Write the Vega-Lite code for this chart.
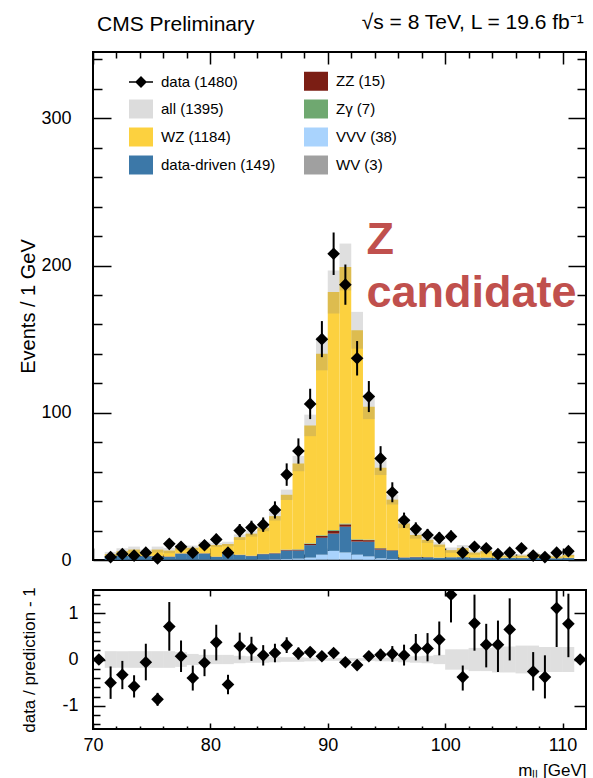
{
  "$schema": "https://vega.github.io/schema/vega-lite/v6.json",
  "background": "white",
  "padding": {"left": 17, "top": 12, "right": 0, "bottom": 0},
  "config": {
    "font": "Liberation Sans",
    "view": {"stroke": "black", "strokeWidth": 2},
    "axis": {"domain": false, "grid": false, "tickColor": "black", "tickWidth": 1.5, "labelColor": "black", "titleColor": "black", "labelFont": "Liberation Sans", "titleFont": "Liberation Sans", "titleFontWeight": "normal", "labelFontSize": 18, "titleFontSize": 18, "labelFlush": false, "labelOverlap": false, "labelBound": false}
  },
  "title": {"text": "√s = 8 TeV, L = 19.6 fb⁻¹", "anchor": "end", "fontSize": 21, "fontWeight": "normal", "font": "Liberation Sans", "color": "black", "baseline": "alphabetic", "offset": 0, "dy": 37, "dx": -4},
  "spacing": 15,
  "datasets": {
    "legend": [
      {"proc": "data (1480)"}, {"proc": "all (1395)"}, {"proc": "WZ (1184)"}, {"proc": "data-driven (149)"},
      {"proc": "ZZ (15)"}, {"proc": "Zγ (7)"}, {"proc": "VVV (38)"}, {"proc": "WV (3)"}
    ],
    "main": [
      {"m": 71.5, "lo": 71, "hi": 72, "n": 2, "nlo": 0.59, "nhi": 3.41, "WV (3)": 0, "VVV (38)": 0.2, "data-driven (149)": 2.2, "ZZ (15)": 0.1, "Zγ (7)": 0.1, "WZ (1184)": 1.4, "blo": 2.5, "bhi": 5.5},
      {"m": 72.5, "lo": 72, "hi": 73, "n": 4, "nlo": 2, "nhi": 6, "WV (3)": 0, "VVV (38)": 0.2, "data-driven (149)": 2.5, "ZZ (15)": 0.1, "Zγ (7)": 0.1, "WZ (1184)": 3.1, "blo": 4, "bhi": 8},
      {"m": 73.5, "lo": 73, "hi": 74, "n": 3, "nlo": 1.27, "nhi": 4.73, "WV (3)": 0, "VVV (38)": 0.2, "data-driven (149)": 2.6, "ZZ (15)": 0.1, "Zγ (7)": 0.1, "WZ (1184)": 4.1, "blo": 5.1, "bhi": 9.1},
      {"m": 74.5, "lo": 74, "hi": 75, "n": 5, "nlo": 2.76, "nhi": 7.24, "WV (3)": 0, "VVV (38)": 0.2, "data-driven (149)": 2.4, "ZZ (15)": 0.1, "Zγ (7)": 0.1, "WZ (1184)": 2.5, "blo": 3.5, "bhi": 7.1},
      {"m": 75.5, "lo": 75, "hi": 76, "n": 1, "nlo": 0, "nhi": 2, "WV (3)": 0, "VVV (38)": 0.2, "data-driven (149)": 2.3, "ZZ (15)": 0.2, "Zγ (7)": 0.1, "WZ (1184)": 4.3, "blo": 5.1, "bhi": 9.1},
      {"m": 76.5, "lo": 76, "hi": 77, "n": 11, "nlo": 7.68, "nhi": 14.32, "WV (3)": 0.05, "VVV (38)": 0.2, "data-driven (149)": 1.8, "ZZ (15)": 0.3, "Zγ (7)": 0.1, "WZ (1184)": 3.95, "blo": 4.6, "bhi": 8.2},
      {"m": 77.5, "lo": 77, "hi": 78, "n": 9, "nlo": 6, "nhi": 12, "WV (3)": 0.05, "VVV (38)": 0.2, "data-driven (149)": 4, "ZZ (15)": 0.2, "Zγ (7)": 0.1, "WZ (1184)": 3.85, "blo": 6.6, "bhi": 10.2},
      {"m": 78.5, "lo": 78, "hi": 79, "n": 5, "nlo": 2.76, "nhi": 7.24, "WV (3)": 0.05, "VVV (38)": 0.2, "data-driven (149)": 4, "ZZ (15)": 0.2, "Zγ (7)": 0.1, "WZ (1184)": 3.75, "blo": 6.8, "bhi": 9.8},
      {"m": 79.5, "lo": 79, "hi": 80, "n": 10, "nlo": 6.84, "nhi": 13.16, "WV (3)": 0.05, "VVV (38)": 0.3, "data-driven (149)": 4, "ZZ (15)": 0.2, "Zγ (7)": 0.1, "WZ (1184)": 6.15, "blo": 9.2, "bhi": 12.4},
      {"m": 80.5, "lo": 80, "hi": 81, "n": 14, "nlo": 10.26, "nhi": 17.74, "WV (3)": 0.05, "VVV (38)": 0.3, "data-driven (149)": 1.7, "ZZ (15)": 0.2, "Zγ (7)": 0.1, "WZ (1184)": 7.85, "blo": 8.8, "bhi": 11.6},
      {"m": 81.5, "lo": 81, "hi": 82, "n": 5, "nlo": 2.76, "nhi": 7.24, "WV (3)": 0.05, "VVV (38)": 0.3, "data-driven (149)": 4, "ZZ (15)": 0.2, "Zγ (7)": 0.1, "WZ (1184)": 6.25, "blo": 9.4, "bhi": 12.4},
      {"m": 82.5, "lo": 82, "hi": 83, "n": 20, "nlo": 15.53, "nhi": 24.47, "WV (3)": 0.05, "VVV (38)": 0.3, "data-driven (149)": 3, "ZZ (15)": 0.2, "Zγ (7)": 0.1, "WZ (1184)": 11.85, "blo": 13.6, "bhi": 17.4},
      {"m": 83.5, "lo": 83, "hi": 84, "n": 22, "nlo": 17.31, "nhi": 26.69, "WV (3)": 0.05, "VVV (38)": 0.3, "data-driven (149)": 2.3, "ZZ (15)": 0.2, "Zγ (7)": 0.1, "WZ (1184)": 14.95, "blo": 15.9, "bhi": 19.9},
      {"m": 84.5, "lo": 84, "hi": 85, "n": 24, "nlo": 19.1, "nhi": 28.9, "WV (3)": 0.05, "VVV (38)": 0.4, "data-driven (149)": 3.5, "ZZ (15)": 0.2, "Zγ (7)": 0.1, "WZ (1184)": 17.75, "blo": 19.6, "bhi": 24.4},
      {"m": 85.5, "lo": 85, "hi": 86, "n": 34, "nlo": 28.17, "nhi": 39.83, "WV (3)": 0.05, "VVV (38)": 0.5, "data-driven (149)": 3.8, "ZZ (15)": 0.3, "Zγ (7)": 0.2, "WZ (1184)": 24.95, "blo": 26.8, "bhi": 32.8},
      {"m": 86.5, "lo": 86, "hi": 87, "n": 58, "nlo": 50.38, "nhi": 65.62, "WV (3)": 0.1, "VVV (38)": 0.6, "data-driven (149)": 5.7, "ZZ (15)": 0.5, "Zγ (7)": 0.2, "WZ (1184)": 37.2, "blo": 40.8, "bhi": 47.8},
      {"m": 87.5, "lo": 87, "hi": 88, "n": 74, "nlo": 65.4, "nhi": 82.6, "WV (3)": 0.1, "VVV (38)": 0.8, "data-driven (149)": 5.5, "ZZ (15)": 0.6, "Zγ (7)": 0.3, "WZ (1184)": 58.2, "blo": 60.3, "bhi": 70.7},
      {"m": 88.5, "lo": 88, "hi": 89, "n": 106, "nlo": 95.7, "nhi": 116.3, "WV (3)": 0.1, "VVV (38)": 1.5, "data-driven (149)": 8.5, "ZZ (15)": 0.8, "Zγ (7)": 0.4, "WZ (1184)": 80.1, "blo": 84.1, "bhi": 98.7},
      {"m": 89.5, "lo": 89, "hi": 90, "n": 150, "nlo": 137.75, "nhi": 162.25, "WV (3)": 0.2, "VVV (38)": 3.4, "data-driven (149)": 11.5, "ZZ (15)": 1.2, "Zγ (7)": 0.5, "WZ (1184)": 123.2, "blo": 128.8, "bhi": 151.2},
      {"m": 90.5, "lo": 90, "hi": 91, "n": 208, "nlo": 193.58, "nhi": 222.42, "WV (3)": 0.2, "VVV (38)": 6, "data-driven (149)": 11.7, "ZZ (15)": 1.8, "Zγ (7)": 0.6, "WZ (1184)": 161.7, "blo": 167.4, "bhi": 196.6},
      {"m": 91.5, "lo": 91, "hi": 92, "n": 187, "nlo": 173.33, "nhi": 200.67, "WV (3)": 0.2, "VVV (38)": 4.9, "data-driven (149)": 17.5, "ZZ (15)": 1.6, "Zγ (7)": 0.6, "WZ (1184)": 174.2, "blo": 183.1, "bhi": 214.9},
      {"m": 92.5, "lo": 92, "hi": 93, "n": 137, "nlo": 125.3, "nhi": 148.7, "WV (3)": 0.2, "VVV (38)": 3.4, "data-driven (149)": 8.9, "ZZ (15)": 1.2, "Zγ (7)": 0.4, "WZ (1184)": 141.9, "blo": 143.5, "bhi": 168.5},
      {"m": 93.5, "lo": 93, "hi": 94, "n": 111, "nlo": 100.46, "nhi": 121.54, "WV (3)": 0.1, "VVV (38)": 2.3, "data-driven (149)": 10, "ZZ (15)": 1.1, "Zγ (7)": 0.4, "WZ (1184)": 90.1, "blo": 95.7, "bhi": 112.3},
      {"m": 94.5, "lo": 94, "hi": 95, "n": 69, "nlo": 60.69, "nhi": 77.31, "WV (3)": 0.1, "VVV (38)": 1, "data-driven (149)": 6, "ZZ (15)": 0.8, "Zγ (7)": 0.3, "WZ (1184)": 54.5, "blo": 57.7, "bhi": 67.7},
      {"m": 95.5, "lo": 95, "hi": 96, "n": 46, "nlo": 39.22, "nhi": 52.78, "WV (3)": 0.1, "VVV (38)": 0.6, "data-driven (149)": 5.5, "ZZ (15)": 0.4, "Zγ (7)": 0.2, "WZ (1184)": 34.2, "blo": 37.7, "bhi": 44.3},
      {"m": 96.5, "lo": 96, "hi": 97, "n": 27, "nlo": 21.8, "nhi": 32.2, "WV (3)": 0.05, "VVV (38)": 0.3, "data-driven (149)": 1.2, "ZZ (15)": 0.2, "Zγ (7)": 0.1, "WZ (1184)": 22.95, "blo": 21.6, "bhi": 28},
      {"m": 97.5, "lo": 97, "hi": 98, "n": 21, "nlo": 16.42, "nhi": 25.58, "WV (3)": 0.05, "VVV (38)": 0.3, "data-driven (149)": 1.5, "ZZ (15)": 0.2, "Zγ (7)": 0.1, "WZ (1184)": 14.85, "blo": 14.5, "bhi": 19.5},
      {"m": 98.5, "lo": 98, "hi": 99, "n": 17, "nlo": 12.88, "nhi": 21.12, "WV (3)": 0.05, "VVV (38)": 0.2, "data-driven (149)": 1.5, "ZZ (15)": 0.2, "Zγ (7)": 0.1, "WZ (1184)": 11.65, "blo": 11.6, "bhi": 15.8},
      {"m": 99.5, "lo": 99, "hi": 100, "n": 15, "nlo": 11.13, "nhi": 18.87, "WV (3)": 0.05, "VVV (38)": 0.2, "data-driven (149)": 1.2, "ZZ (15)": 0.1, "Zγ (7)": 0.1, "WZ (1184)": 8.85, "blo": 8.9, "bhi": 12.1},
      {"m": 100.5, "lo": 100, "hi": 101, "n": 16, "nlo": 12, "nhi": 20, "WV (3)": 0.05, "VVV (38)": 0.2, "data-driven (149)": 1.5, "ZZ (15)": 0.1, "Zγ (7)": 0.1, "WZ (1184)": 4.75, "blo": 4.9, "bhi": 8.5},
      {"m": 101.5, "lo": 101, "hi": 102, "n": 5, "nlo": 2.76, "nhi": 7.24, "WV (3)": 0.05, "VVV (38)": 0.2, "data-driven (149)": 1.6, "ZZ (15)": 0.1, "Zγ (7)": 0.1, "WZ (1184)": 6.05, "blo": 6, "bhi": 10.2},
      {"m": 102.5, "lo": 102, "hi": 103, "n": 9, "nlo": 6, "nhi": 12, "WV (3)": 0, "VVV (38)": 0.2, "data-driven (149)": 1.3, "ZZ (15)": 0.1, "Zγ (7)": 0.1, "WZ (1184)": 3.4, "blo": 3.6, "bhi": 6.6},
      {"m": 103.5, "lo": 103, "hi": 104, "n": 8, "nlo": 5.17, "nhi": 10.83, "WV (3)": 0, "VVV (38)": 0.2, "data-driven (149)": 1.3, "ZZ (15)": 0.1, "Zγ (7)": 0.1, "WZ (1184)": 4.4, "blo": 4.4, "bhi": 7.8},
      {"m": 104.5, "lo": 104, "hi": 105, "n": 4, "nlo": 2, "nhi": 6, "WV (3)": 0, "VVV (38)": 0.1, "data-driven (149)": 1.2, "ZZ (15)": 0.1, "Zγ (7)": 0.1, "WZ (1184)": 1.5, "blo": 2.1, "bhi": 3.9},
      {"m": 105.5, "lo": 105, "hi": 106, "n": 5, "nlo": 2.76, "nhi": 7.24, "WV (3)": 0, "VVV (38)": 0.1, "data-driven (149)": 1.3, "ZZ (15)": 0.1, "Zγ (7)": 0.1, "WZ (1184)": 1.4, "blo": 2.1, "bhi": 3.9},
      {"m": 106.5, "lo": 106, "hi": 107, "n": 8, "nlo": 5.17, "nhi": 10.83, "WV (3)": 0, "VVV (38)": 0.1, "data-driven (149)": 1.2, "ZZ (15)": 0.1, "Zγ (7)": 0.1, "WZ (1184)": 1.5, "blo": 2.1, "bhi": 3.9},
      {"m": 107.5, "lo": 107, "hi": 108, "n": 3, "nlo": 1.27, "nhi": 4.73, "WV (3)": 0, "VVV (38)": 0.1, "data-driven (149)": 1.3, "ZZ (15)": 0.1, "Zγ (7)": 0.1, "WZ (1184)": 2.5, "blo": 3, "bhi": 5.2},
      {"m": 108.5, "lo": 108, "hi": 109, "n": 2, "nlo": 0.59, "nhi": 3.41, "WV (3)": 0, "VVV (38)": 0.1, "data-driven (149)": 1.3, "ZZ (15)": 0.1, "Zγ (7)": 0.1, "WZ (1184)": 1.6, "blo": 2.3, "bhi": 4.1},
      {"m": 109.5, "lo": 109, "hi": 110, "n": 5, "nlo": 2.76, "nhi": 7.24, "WV (3)": 0, "VVV (38)": 0.1, "data-driven (149)": 1, "ZZ (15)": 0.1, "Zγ (7)": 0.1, "WZ (1184)": 1.1, "blo": 1.7, "bhi": 3.1},
      {"m": 110.5, "lo": 110, "hi": 111, "n": 6, "nlo": 3.55, "nhi": 8.45, "WV (3)": 0, "VVV (38)": 0.1, "data-driven (149)": 1.2, "ZZ (15)": 0.1, "Zγ (7)": 0.1, "WZ (1184)": 1.9, "blo": 2.4, "bhi": 4.4}
    ],
    "ratio": [
      {"m": 70.5, "lo": 70, "hi": 71, "r": 0, "rlo": null, "rhi": null, "ulo": null, "uhi": null},
      {"m": 71.5, "lo": 71, "hi": 72, "r": -0.5, "rlo": -0.85, "rhi": -0.15, "ulo": -0.18, "uhi": 0.18},
      {"m": 72.5, "lo": 72, "hi": 73, "r": -0.33, "rlo": -0.64, "rhi": -0.03, "ulo": -0.18, "uhi": 0.18},
      {"m": 73.5, "lo": 73, "hi": 74, "r": -0.58, "rlo": -0.82, "rhi": -0.34, "ulo": -0.18, "uhi": 0.18},
      {"m": 74.5, "lo": 74, "hi": 75, "r": -0.06, "rlo": -0.45, "rhi": 0.34, "ulo": -0.18, "uhi": 0.18},
      {"m": 75.5, "lo": 75, "hi": 76, "r": -0.86, "rlo": -1, "rhi": -0.72, "ulo": -0.18, "uhi": 0.18},
      {"m": 76.5, "lo": 76, "hi": 77, "r": 0.71, "rlo": 0.19, "rhi": 1.24, "ulo": -0.18, "uhi": 0.18},
      {"m": 77.5, "lo": 77, "hi": 78, "r": 0.07, "rlo": -0.27, "rhi": 0.41, "ulo": -0.16, "uhi": 0.16},
      {"m": 78.5, "lo": 78, "hi": 79, "r": -0.4, "rlo": -0.67, "rhi": -0.13, "ulo": -0.12, "uhi": 0.12},
      {"m": 79.5, "lo": 79, "hi": 80, "r": -0.07, "rlo": -0.36, "rhi": 0.22, "ulo": -0.1, "uhi": 0.1},
      {"m": 80.5, "lo": 80, "hi": 81, "r": 0.37, "rlo": -0.02, "rhi": 0.75, "ulo": -0.1, "uhi": 0.1},
      {"m": 81.5, "lo": 81, "hi": 82, "r": -0.54, "rlo": -0.75, "rhi": -0.33, "ulo": -0.1, "uhi": 0.1},
      {"m": 82.5, "lo": 82, "hi": 83, "r": 0.29, "rlo": 0, "rhi": 0.58, "ulo": -0.08, "uhi": 0.08},
      {"m": 83.5, "lo": 83, "hi": 84, "r": 0.23, "rlo": -0.03, "rhi": 0.49, "ulo": -0.07, "uhi": 0.07},
      {"m": 84.5, "lo": 84, "hi": 85, "r": 0.09, "rlo": -0.13, "rhi": 0.31, "ulo": -0.07, "uhi": 0.07},
      {"m": 85.5, "lo": 85, "hi": 86, "r": 0.14, "rlo": -0.06, "rhi": 0.34, "ulo": -0.06, "uhi": 0.06},
      {"m": 86.5, "lo": 86, "hi": 87, "r": 0.31, "rlo": 0.14, "rhi": 0.48, "ulo": -0.05, "uhi": 0.05},
      {"m": 87.5, "lo": 87, "hi": 88, "r": 0.13, "rlo": 0, "rhi": 0.26, "ulo": -0.05, "uhi": 0.05},
      {"m": 88.5, "lo": 88, "hi": 89, "r": 0.16, "rlo": 0.05, "rhi": 0.27, "ulo": -0.04, "uhi": 0.04},
      {"m": 89.5, "lo": 89, "hi": 90, "r": 0.07, "rlo": -0.02, "rhi": 0.16, "ulo": -0.03, "uhi": 0.03},
      {"m": 90.5, "lo": 90, "hi": 91, "r": 0.14, "rlo": 0.06, "rhi": 0.22, "ulo": -0.03, "uhi": 0.03},
      {"m": 91.5, "lo": 91, "hi": 92, "r": -0.06, "rlo": -0.13, "rhi": 0.01, "ulo": -0.03, "uhi": 0.03},
      {"m": 92.5, "lo": 92, "hi": 93, "r": -0.12, "rlo": -0.19, "rhi": -0.05, "ulo": -0.03, "uhi": 0.03},
      {"m": 93.5, "lo": 93, "hi": 94, "r": 0.07, "rlo": -0.03, "rhi": 0.17, "ulo": -0.03, "uhi": 0.03},
      {"m": 94.5, "lo": 94, "hi": 95, "r": 0.1, "rlo": -0.03, "rhi": 0.23, "ulo": -0.04, "uhi": 0.04},
      {"m": 95.5, "lo": 95, "hi": 96, "r": 0.12, "rlo": -0.05, "rhi": 0.29, "ulo": -0.04, "uhi": 0.04},
      {"m": 96.5, "lo": 96, "hi": 97, "r": 0.09, "rlo": -0.13, "rhi": 0.32, "ulo": -0.06, "uhi": 0.06},
      {"m": 97.5, "lo": 97, "hi": 98, "r": 0.24, "rlo": -0.02, "rhi": 0.55, "ulo": -0.07, "uhi": 0.07},
      {"m": 98.5, "lo": 98, "hi": 99, "r": 0.24, "rlo": -0.04, "rhi": 0.57, "ulo": -0.08, "uhi": 0.08},
      {"m": 99.5, "lo": 99, "hi": 100, "r": 0.43, "rlo": 0.09, "rhi": 0.82, "ulo": -0.1, "uhi": 0.1},
      {"m": 100.5, "lo": 100, "hi": 101, "r": 1.4, "rlo": 0.8, "rhi": 2, "ulo": -0.22, "uhi": 0.22},
      {"m": 101.5, "lo": 101, "hi": 102, "r": -0.38, "rlo": -0.67, "rhi": -0.13, "ulo": -0.22, "uhi": 0.22},
      {"m": 102.5, "lo": 102, "hi": 103, "r": 0.78, "rlo": 0.19, "rhi": 1.4, "ulo": -0.25, "uhi": 0.25},
      {"m": 103.5, "lo": 103, "hi": 104, "r": 0.32, "rlo": -0.17, "rhi": 0.77, "ulo": -0.25, "uhi": 0.25},
      {"m": 104.5, "lo": 104, "hi": 105, "r": 0.32, "rlo": -0.27, "rhi": 0.84, "ulo": -0.28, "uhi": 0.28},
      {"m": 105.5, "lo": 105, "hi": 106, "r": 0.65, "rlo": -0.02, "rhi": 1.32, "ulo": -0.28, "uhi": 0.28},
      {"m": 106.5, "lo": 106, "hi": 107, "r": null, "rlo": null, "rhi": null, "ulo": -0.3, "uhi": 0.3},
      {"m": 107.5, "lo": 107, "hi": 108, "r": -0.26, "rlo": -0.67, "rhi": 0.16, "ulo": -0.3, "uhi": 0.3},
      {"m": 108.5, "lo": 108, "hi": 109, "r": -0.38, "rlo": -0.84, "rhi": 0.09, "ulo": -0.27, "uhi": 0.27},
      {"m": 109.5, "lo": 109, "hi": 110, "r": 1.11, "rlo": 0.27, "rhi": 2, "ulo": -0.27, "uhi": 0.27},
      {"m": 110.5, "lo": 110, "hi": 111, "r": 0.77, "rlo": 0.05, "rhi": 1.42, "ulo": -0.27, "uhi": 0.27},
      {"m": 111.5, "lo": 111, "hi": 112, "r": 0, "rlo": null, "rhi": null, "ulo": null, "uhi": null}
    ]
  },
  "vconcat": [
    {
      "width": 493,
      "height": 508,
      "title": {"text": "CMS Preliminary", "anchor": "start", "frame": "group", "fontSize": 21, "fontWeight": "normal", "font": "Liberation Sans", "color": "black", "baseline": "alphabetic", "offset": -1, "dx": 4},
      "data": {"name": "main"},
      "resolve": {"axis": {"x": "independent", "y": "independent"}},
      "layer": [
        {
          "transform": [
            {"fold": ["WV (3)", "VVV (38)", "data-driven (149)", "ZZ (15)", "Zγ (7)", "WZ (1184)"], "as": ["proc", "cnt"]},
            {"stack": "cnt", "groupby": ["lo"], "as": ["s0", "s1"]}
          ],
          "mark": {"type": "rect", "strokeWidth": 0},
          "encoding": {
            "x": {"field": "lo", "type": "quantitative", "scale": {"domain": [70, 112], "nice": false, "zero": false},
              "axis": {"orient": "bottom", "values": [70,80,90,100,110], "labels": false, "title": null, "tickSize": -12}},
            "x2": {"field": "hi"},
            "y": {"field": "s0", "type": "quantitative", "scale": {"domain": [0, 345], "nice": false},
              "axis": {"orient": "left", "values": [0,100,200,300], "tickSize": -18, "labelPadding": 40,
                "title": "Events / 1 GeV", "titleFontSize": 20, "titleX": -65, "titleY": 254, "titleAngle": -90, "titleAlign": "center", "titleBaseline": "middle"}},
            "y2": {"field": "s1"},
            "fill": {"field": "proc", "type": "nominal",
              "scale": {"domain": ["data (1480)", "all (1395)", "WZ (1184)", "data-driven (149)", "ZZ (15)", "Zγ (7)", "VVV (38)", "WV (3)"],
                "range": ["#000000", "#dcdcdc", "#fcd13f", "#3c78a8", "#7b1e14", "#6fa870", "#a9d3fd", "#a0a0a0"]},
              "legend": {"orient": "none", "legendX": 38, "legendY": 19, "columns": 2, "title": null, "padding": 0,
                "labelFontSize": 15, "labelFont": "Liberation Sans", "labelColor": "black", "labelLimit": 300,
                "symbolSize": 400, "symbolStrokeWidth": 0, "symbolOpacity": 1,
                "labelOffset": 10, "rowPadding": 8, "columnPadding": 28}}
          }
        },
        {
          "mark": {"type": "rect", "fill": "#808080", "opacity": 0.25, "strokeWidth": 0},
          "encoding": {
            "x": {"field": "lo", "type": "quantitative",
              "axis": {"orient": "bottom", "values": [72,74,76,78,82,84,86,88,92,94,96,98,102,104,106,108], "labels": false, "title": null, "tickSize": -6}},
            "x2": {"field": "hi"},
            "y": {"field": "blo", "type": "quantitative",
              "axis": {"orient": "left", "values": [20,40,60,80,120,140,160,180,220,240,260,280,320,340], "labels": false, "title": null, "tickSize": -9}},
            "y2": {"field": "bhi"}
          }
        },
        {
          "mark": {"type": "rule", "color": "black", "strokeWidth": 2},
          "encoding": {
            "x": {"field": "m", "type": "quantitative",
              "axis": {"orient": "top", "values": [70,80,90,100,110], "labels": false, "title": null, "tickSize": -12}},
            "y": {"field": "nlo", "type": "quantitative",
              "axis": {"orient": "right", "values": [0,100,200,300], "labels": false, "title": null, "tickSize": -18}},
            "y2": {"field": "nhi"}
          }
        },
        {
          "mark": {"type": "point", "shape": "diamond", "filled": true, "size": 160, "color": "black", "opacity": 1},
          "encoding": {
            "x": {"field": "m", "type": "quantitative",
              "axis": {"orient": "top", "values": [72,74,76,78,82,84,86,88,92,94,96,98,102,104,106,108], "labels": false, "title": null, "tickSize": -6}},
            "y": {"field": "n", "type": "quantitative",
              "axis": {"orient": "right", "values": [20,40,60,80,120,140,160,180,220,240,260,280,320,340], "labels": false, "title": null, "tickSize": -9}}
          }
        },
        {
          "data": {"name": "legend"},
          "mark": {"type": "point", "filled": true, "opacity": 0},
          "encoding": {
            "fill": {"field": "proc", "type": "nominal",
              "scale": {"domain": ["data (1480)", "all (1395)", "WZ (1184)", "data-driven (149)", "ZZ (15)", "Zγ (7)", "VVV (38)", "WV (3)"],
                "range": ["#000000", "#dcdcdc", "#fcd13f", "#3c78a8", "#7b1e14", "#6fa870", "#a9d3fd", "#a0a0a0"]},
              "legend": {"orient": "none", "legendX": 38, "legendY": 19, "columns": 2, "title": null, "padding": 0,
                "labelFontSize": 15, "labelFont": "Liberation Sans", "labelColor": "black", "labelLimit": 300,
                "symbolSize": 400, "symbolStrokeWidth": 0, "symbolOpacity": 1,
                "labelOffset": 10, "rowPadding": 8, "columnPadding": 28}},
            "shape": {"field": "proc", "type": "nominal",
              "scale": {"domain": ["data (1480)", "all (1395)", "WZ (1184)", "data-driven (149)", "ZZ (15)", "Zγ (7)", "VVV (38)", "WV (3)"],
                "range": ["M-1.2,-0.08H-0.52L0,-0.6L0.52,-0.08H1.2V0.08H0.52L0,0.6L-0.52,0.08H-1.2Z", "M-1.2,-0.95H1.2V0.95H-1.2Z", "M-1.2,-0.95H1.2V0.95H-1.2Z", "M-1.2,-0.95H1.2V0.95H-1.2Z", "M-1.2,-0.95H1.2V0.95H-1.2Z", "M-1.2,-0.95H1.2V0.95H-1.2Z", "M-1.2,-0.95H1.2V0.95H-1.2Z", "M-1.2,-0.95H1.2V0.95H-1.2Z"]},
              "legend": {"orient": "none", "legendX": 38, "legendY": 19, "columns": 2, "title": null, "padding": 0,
                "labelFontSize": 15, "labelFont": "Liberation Sans", "labelColor": "black", "labelLimit": 300,
                "symbolSize": 400, "symbolStrokeWidth": 0, "symbolOpacity": 1,
                "labelOffset": 10, "rowPadding": 8, "columnPadding": 28}}
          }
        },
        {
          "data": {"values": [{}]},
          "mark": {"type": "text", "text": ["Z", "candidate"], "font": "Liberation Sans", "fontSize": 45, "fontWeight": "bold", "color": "#c0504d", "align": "left", "baseline": "alphabetic", "lineHeight": 53, "clip": true},
          "encoding": {
            "x": {"datum": 93.3, "type": "quantitative", "axis": null},
            "y": {"datum": 207.5, "type": "quantitative", "axis": null}
          }
        }
      ]
    },
    {
      "width": 493,
      "height": 139,
      "data": {"name": "ratio"},
      "resolve": {"axis": {"x": "independent", "y": "independent"}},
      "layer": [
        {
          "mark": {"type": "rect", "fill": "#808080", "opacity": 0.25, "strokeWidth": 0, "clip": true},
          "encoding": {
            "x": {"field": "lo", "type": "quantitative", "scale": {"domain": [70, 112], "nice": false, "zero": false},
              "axis": {"orient": "bottom", "values": [70,80,90,100,110], "tickSize": -6, "labelPadding": 13,
                "title": "mₗₗ [GeV]", "titleFontSize": 17, "titleX": 493, "titleY": 46, "titleAlign": "right", "titleAnchor": "end", "titleBaseline": "alphabetic"}},
            "x2": {"field": "hi"},
            "y": {"field": "ulo", "type": "quantitative", "scale": {"domain": [-1.5, 1.5], "nice": false, "zero": false},
              "axis": {"orient": "left", "values": [-1, 0, 1], "labelExpr": "replace(datum.label, '−', '-')", "tickSize": -12, "labelPadding": 27,
                "title": "data / prediction - 1", "titleFontSize": 17, "titleX": -64, "titleY": 69.5, "titleAngle": -90, "titleAlign": "center", "titleBaseline": "middle"}},
            "y2": {"field": "uhi"}
          }
        },
        {
          "mark": {"type": "rule", "color": "black", "strokeWidth": 2, "clip": true},
          "encoding": {
            "x": {"field": "m", "type": "quantitative",
              "axis": {"orient": "bottom", "values": [72,74,76,78,82,84,86,88,92,94,96,98,102,104,106,108], "labels": false, "title": null, "tickSize": -3}},
            "y": {"field": "rlo", "type": "quantitative",
              "axis": {"orient": "left", "values": [-1.4,-1.2,-0.8,-0.6,-0.4,-0.2,0.2,0.4,0.6,0.8,1.2,1.4], "labels": false, "title": null, "tickSize": -7}},
            "y2": {"field": "rhi"}
          }
        },
        {
          "mark": {"type": "point", "shape": "diamond", "filled": true, "size": 160, "color": "black", "opacity": 1, "clip": true},
          "encoding": {
            "x": {"field": "m", "type": "quantitative",
              "axis": {"orient": "top", "values": [70,80,90,100,110], "labels": false, "title": null, "tickSize": -6}},
            "y": {"field": "r", "type": "quantitative",
              "axis": {"orient": "right", "values": [-1, 0, 1], "labels": false, "title": null, "tickSize": -12}}
          }
        }
      ]
    }
  ]
}
